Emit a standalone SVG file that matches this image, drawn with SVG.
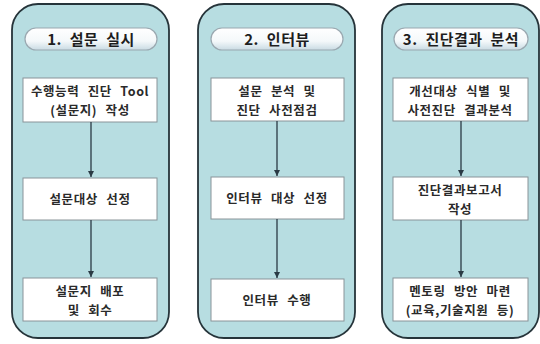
<svg xmlns="http://www.w3.org/2000/svg" width="540" height="344" viewBox="0 0 540 344">
<defs>
<linearGradient id="pill" x1="0" y1="0" x2="0" y2="1">
<stop offset="0" stop-color="#ffffff"/>
<stop offset="0.6" stop-color="#f4f8fa"/>
<stop offset="1" stop-color="#c9dbe3"/>
</linearGradient>
<marker id="ah" markerWidth="8" markerHeight="8" refX="6" refY="3" orient="auto" markerUnits="userSpaceOnUse">
<path d="M0,0 L6,3 L0,6 Z" fill="#2a3a44"/>
</marker>
</defs>
<style>
.panel{fill:#b7dde1;stroke:#26343a;stroke-width:1.8}
.pill{fill:url(#pill);stroke:#9aa8b0;stroke-width:1.2}
.box{fill:#ffffff;stroke:#8a9499;stroke-width:1}
.title{font-family:"Noto Sans CJK KR","Liberation Sans",sans-serif;font-size:15px;font-weight:bold;fill:#1e1e1e;text-anchor:middle;word-spacing:4px;letter-spacing:0.5px}
.t{font-family:"Noto Sans CJK KR","Liberation Sans",sans-serif;font-size:12.5px;font-weight:bold;fill:#2a2a2a;text-anchor:middle;word-spacing:5px;letter-spacing:0.6px}
.arr{stroke:#2a3a44;stroke-width:1.3;fill:none;marker-end:url(#ah)}
</style>
<rect width="540" height="344" fill="#ffffff"/>

<g id="panel1">
<rect class="panel" x="12" y="4" width="157" height="334" rx="26"/>
<rect class="pill" x="25" y="28" width="132" height="22" rx="11"/>
<text class="title" x="91" y="44.5">1. 설문 실시</text>
</g>
<g id="panel2">
<rect class="panel" x="198" y="4" width="157" height="334" rx="26"/>
<rect class="pill" x="211" y="28" width="132" height="22" rx="11"/>
<text class="title" x="277" y="44.5">2. 인터뷰</text>
</g>
<g id="panel3">
<rect class="panel" x="382" y="4" width="157" height="334" rx="26"/>
<rect class="pill" x="394" y="28" width="134" height="22" rx="11"/>
<text class="title" x="461" y="44.5">3. 진단결과 분석</text>
</g>

<g id="n1a">
<rect class="box" x="23" y="78" width="134" height="44"/>
<text class="t" x="90" y="96">수행능력 진단 Tool</text>
<text class="t" x="90" y="114.5">(설문지) 작성</text>
</g>
<g id="n1b">
<rect class="box" x="23" y="178" width="134" height="42"/>
<text class="t" x="90" y="204">설문대상 선정</text>
</g>
<g id="n1c">
<rect class="box" x="23" y="278" width="134" height="43"/>
<text class="t" x="90" y="296">설문지 배포</text>
<text class="t" x="90" y="314.5">및 회수</text>
</g>

<g id="n2a">
<rect class="box" x="211" y="78" width="133" height="43"/>
<text class="t" x="277" y="96">설문 분석 및</text>
<text class="t" x="277" y="114.5">진단 사전점검</text>
</g>
<g id="n2b">
<rect class="box" x="211" y="177" width="133" height="42"/>
<text class="t" x="277" y="203">인터뷰 대상 선정</text>
</g>
<g id="n2c">
<rect class="box" x="211" y="279" width="133" height="42"/>
<text class="t" x="277" y="305">인터뷰 수행</text>
</g>

<g id="n3a">
<rect class="box" x="393" y="78" width="135" height="43"/>
<text class="t" x="460" y="96">개선대상 식별 및</text>
<text class="t" x="460" y="114.5">사전진단 결과분석</text>
</g>
<g id="n3b">
<rect class="box" x="393" y="177" width="135" height="43"/>
<text class="t" x="460" y="195">진단결과보고서</text>
<text class="t" x="460" y="213.5">작성</text>
</g>
<g id="n3c">
<rect class="box" x="393" y="278" width="135" height="43"/>
<text class="t" x="460" y="296">멘토링 방안 마련</text>
<text class="t" x="460" y="314.5">(교육,기술지원 등)</text>
</g>

<g id="connectors">
<line class="arr" x1="91" y1="122" x2="91" y2="177"/>
<line class="arr" x1="91" y1="220" x2="91" y2="277"/>
<line class="arr" x1="277" y1="121" x2="277" y2="176"/>
<line class="arr" x1="277" y1="219" x2="277" y2="278"/>
<line class="arr" x1="461" y1="121" x2="461" y2="176"/>
<line class="arr" x1="461" y1="220" x2="461" y2="277"/>
</g>
</svg>
